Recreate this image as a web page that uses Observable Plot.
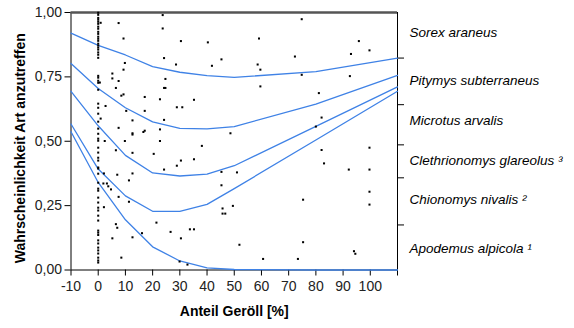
<!DOCTYPE html>
<html><head><meta charset="utf-8">
<script src="https://cdn.jsdelivr.net/npm/d3@7"></script>
<script src="https://cdn.jsdelivr.net/npm/@observablehq/plot@0.6"></script>
<style>body{margin:0;background:#fff}</style>
</head><body><div id="chart"></div>
<script>
// ---- data ----
const xDomain = [-10, 110];
const yDomain = [0, 1];
const xTicks = [-10, 0, 10, 20, 30, 40, 50, 60, 70, 80, 90, 100, 110];
const yTicks = [0, 0.25, 0.5, 0.75, 1];
const xTitle = "Anteil Geröll [%]";
const yTitle = "Wahrscheinlichkeit Art anzutreffen";

const speciesLabels = ["Sorex araneus", "Pitymys subterraneus", "Microtus arvalis",
  "Clethrionomys glareolus ³", "Chionomys nivalis ²", "Apodemus alpicola ¹"];
const labelY = [0.920, 0.735, 0.580, 0.426, 0.272, 0.082];
const sepTicks = [0.823, 0.642, 0.486, 0.358, 0.175];

// fitted curves (read at these x)
const curveX = [-10, 0, 10, 20, 30, 40, 50, 80, 110];
const sorexP     = [0.920, 0.872, 0.835, 0.790, 0.768, 0.755, 0.748, 0.770, 0.823];
const pitymysP   = [0.802, 0.705, 0.630, 0.575, 0.550, 0.548, 0.557, 0.644, 0.756];
const microtusP  = [0.694, 0.560, 0.445, 0.377, 0.365, 0.372, 0.405, 0.558, 0.711];
const chionomysP = [0.567, 0.392, 0.288, 0.228, 0.228, 0.255, 0.316, 0.505, 0.694];
const apodemusP  = [0.537, 0.340, 0.195, 0.090, 0.035, 0.008, 0.002, 0.000, 0.000];

// observations at 0 % scree
const zeroColY = [0.999,0.991,0.979,0.972,0.964,0.956,0.945,0.937,0.925,0.917,0.906,0.898,0.890,0.879,0.872,0.864,0.856,0.845,0.836,0.824,
  0.754,0.747,0.735,0.727,0.700,0.646,0.630,0.607,0.576,0.549,0.529,0.510,0.502,0.475,0.456,0.436,0.425,0.398,0.394,0.374,
  0.339,0.316,0.308,0.281,0.262,0.242,0.231,0.211,0.192,0.153,0.145,0.136,0.115,0.103,0.087,0.076,0.064,0.048,0.037,0.029];

// other observations
const obsX = [0.9,0.6,7.5,23.7,23.7,9.3,30.4,40.3,9.8,9.3,24.2,28.6,45.3,41.8,5.2,5.2,7.5,24.7,6.5,24.2,24.7,8.5,9.3,17.1,22.7,35.2,2.7,28.9,30.9,10.3,
  17.1,0.9,12.6,24.2,7.5,12.6,12.6,16.6,17.1,22.7,48.6,9.8,2.4,22.7,38.1,6.5,12.6,20.4,35.2,30.4,28.9,24.2,2.1,7.0,12.6,11.3,45.3,51.0,1.9,3.2,
  3.7,4.7,7.5,11.3,45.3,2.1,45.7,45.7,46.7,49.5,21.4,6.5,7.0,26.6,33.7,35.2,16.1,5.2,12.6,30.4,51.9,8.5,29.9,32.8,
  74.8,59.1,95.8,99.7,92.9,72.3,58.6,59.6,74.8,92.5,59.6,81.1,82.1,80.0,82.1,83.0,99.7,99.7,92.1,99.7,99.7,75.3,75.3,60.6,73.4,94.0,94.5];
const obsY = [0.960,0.728,0.959,0.990,0.938,0.899,0.889,0.884,0.804,0.778,0.823,0.798,0.818,0.793,0.763,0.744,0.734,0.742,0.707,0.707,0.707,0.677,0.682,0.672,0.663,0.661,0.637,0.632,0.632,0.618,
  0.618,0.588,0.581,0.583,0.552,0.531,0.526,0.536,0.541,0.546,0.531,0.501,0.501,0.501,0.482,0.465,0.455,0.451,0.430,0.425,0.405,0.390,0.375,0.370,0.375,0.348,0.381,0.379,0.336,0.336,
  0.325,0.313,0.284,0.265,0.329,0.244,0.239,0.219,0.219,0.249,0.184,0.178,0.164,0.148,0.158,0.158,0.143,0.123,0.127,0.123,0.098,0.048,0.033,0.021,
  0.974,0.899,0.889,0.853,0.839,0.829,0.798,0.778,0.758,0.753,0.713,0.687,0.592,0.557,0.466,0.414,0.475,0.390,0.390,0.304,0.254,0.273,0.108,0.043,0.043,0.073,0.063];

// ---- build tables ----
const curveSets = [["Sorex", sorexP], ["Pitymys", pitymysP], ["Microtus", microtusP], ["Chionomys", chionomysP], ["Apodemus", apodemusP]];
const curveData = curveSets.flatMap(([name, ys]) => curveX.map((x, i) => ({species: name, x, y: ys[i]})));
const dots = zeroColY.map(y => ({x: 0, y})).concat(obsX.map((x, i) => ({x, y: obsY[i]})));
const fmtY = d => d.toFixed(2).replace(".", ",");

const chart = Plot.plot({
  width: 574, height: 328,
  marginLeft: 70.5, marginRight: 177, marginTop: 12, marginBottom: 58.5,
  style: {fontFamily: "'Liberation Sans', Arial, sans-serif", fontSize: "14px", background: "#fff", color: "#000"},
  x: {domain: xDomain},
  y: {domain: yDomain},
  marks: [
    Plot.axisY({ticks: yTicks, tickFormat: fmtY, tickSize: 6, tickPadding: 3, fontSize: 14, label: null, fill: "#222"}),
    Plot.axisX({ticks: xTicks, tickFormat: d => d === xDomain[1] ? "" : String(d), tickSize: 6, tickPadding: 5, fontSize: 14, label: null, fill: "#222"}),
    Plot.axisY({anchor: "right", ticks: sepTicks, tickFormat: () => "", tickSize: 6, label: null}),
    Plot.ruleX([xDomain[0]], {stroke: "#000", strokeWidth: 1}),
    Plot.ruleX([xDomain[1]], {stroke: "#000", strokeWidth: 1}),
    Plot.ruleY([yDomain[0]], {stroke: "#000", strokeWidth: 1}),
    Plot.ruleY([yDomain[1]], {stroke: "#555", strokeWidth: 2.5}),
    Plot.line(curveData, {x: "x", y: "y", z: "species", stroke: "#3f82e6", strokeWidth: 1.3}),
    Plot.dot(dots, {x: "x", y: "y", symbol: "square", r: 1.15, fill: "#000", stroke: null}),
    Plot.text(speciesLabels, {y: (d, i) => labelY[i], text: d => d, frameAnchor: "right", textAnchor: "start", dx: 12, fontStyle: "italic", fontSize: 13.5, fill: "#000"}),
    Plot.text([yTitle], {frameAnchor: "left", textAnchor: "middle", rotate: -90, dx: -50, dy: 7, text: d => d, fontWeight: "bold", fontSize: 14, fill: "#000"}),
    Plot.text([xTitle], {frameAnchor: "bottom", textAnchor: "middle", dy: 46, text: d => d, fontWeight: "bold", fontSize: 14, fill: "#000"})
  ]
});
document.getElementById("chart").appendChild(chart);
</script>
</body></html>
